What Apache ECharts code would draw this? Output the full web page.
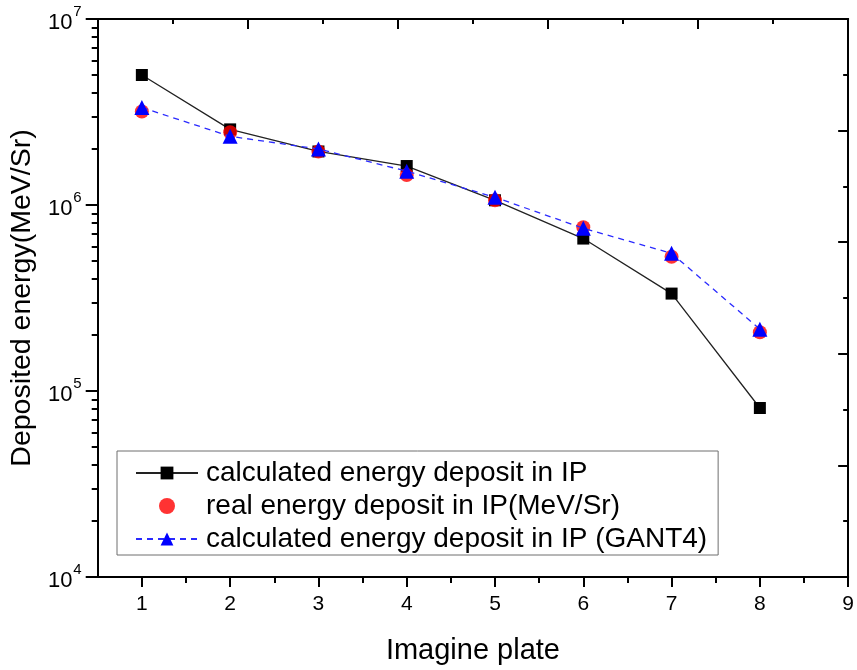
<!DOCTYPE html>
<html>
<head>
<meta charset="utf-8">
<script src="https://cdn.jsdelivr.net/npm/echarts@6/dist/echarts.min.js"></script>
<style>
  html, body { margin: 0; padding: 0; background: #ffffff; }
  #chart { width: 857px; height: 670px; }
</style>
</head>
<body>
<div id="chart"></div>
<script>
// Imaging plate index (stack position)
const plates = [1, 2, 3, 4, 5, 6, 7, 8];

// Deposited energy per plate, MeV/Sr
const calcDeposit  = [5.0e6, 2.55e6, 1.94e6, 1.62e6, 1.06e6, 6.6e5, 3.34e5, 8.1e4];
const realDeposit  = [3.18e6, 2.46e6, 1.94e6, 1.45e6, 1.06e6, 7.6e5, 5.27e5, 2.07e5];
const geantDeposit = [3.34e6, 2.34e6, 2.0e6, 1.52e6, 1.10e6, 7.5e5, 5.5e5, 2.15e5];

const seriesNames = [
  'calculated energy deposit in IP',
  'real energy deposit in IP(MeV/Sr)',
  'calculated energy deposit in IP (GANT4)'
];

// Tick positions
const xMajorTicks = [1, 2, 3, 4, 5, 6, 7, 8, 9];
const xMinorTicks = [1.5, 2.5, 3.5, 4.5, 5.5, 6.5, 7.5, 8.5];
const yDecades = [1e4, 1e5, 1e6, 1e7];
const yMinorTicks = [
  2e4, 3e4, 4e4, 5e4, 6e4, 7e4, 8e4, 9e4,
  2e5, 3e5, 4e5, 5e5, 6e5, 7e5, 8e5, 9e5,
  2e6, 3e6, 4e6, 5e6, 6e6, 7e6, 8e6, 9e6
];

const FONT = 'Liberation Sans, Arial, sans-serif';
const AXIS_LINE = { show: true, onZero: false, lineStyle: { color: '#000', width: 2 } };
const TICK_STYLE = { color: '#000', width: 2 };

const pairs = vals => plates.map((p, i) => [p, vals[i]]);

const chart = echarts.init(document.getElementById('chart'), null, { renderer: 'canvas' });

chart.setOption({
  animation: false,
  backgroundColor: '#ffffff',
  textStyle: { fontFamily: FONT },
  grid: { left: 97, right: 7, top: 19, bottom: 90, containLabel: false },
  xAxis: [
    {
      type: 'value', position: 'bottom', min: 0.5, max: 9,
      axisLine: AXIS_LINE,
      axisTick: { show: true, customValues: xMajorTicks, length: 10, lineStyle: TICK_STYLE },
      axisLabel: { customValues: xMajorTicks, fontSize: 21, color: '#000', margin: 17, fontFamily: FONT },
      splitLine: { show: false },
      name: 'Imagine plate', nameLocation: 'middle', nameGap: 59,
      nameTextStyle: { fontSize: 29, color: '#000', fontFamily: FONT }
    },
    {
      type: 'value', position: 'bottom', min: 0.5, max: 9,
      axisLine: { show: false },
      axisTick: { show: true, customValues: xMinorTicks, length: 6, lineStyle: TICK_STYLE },
      axisLabel: { show: false },
      splitLine: { show: false }
    },
    {
      type: 'value', position: 'top', min: 0, max: 10, interval: 2,
      axisLine: AXIS_LINE,
      axisTick: { show: true, inside: true, length: 10, lineStyle: TICK_STYLE },
      minorTick: { show: true, splitNumber: 2, length: 5, lineStyle: TICK_STYLE },
      axisLabel: { show: false },
      splitLine: { show: false }
    }
  ],
  yAxis: [
    {
      type: 'log', logBase: 10, position: 'left', min: 1e4, max: 1e7,
      axisLine: AXIS_LINE,
      axisTick: { show: true, customValues: yDecades, length: 12, lineStyle: TICK_STYLE },
      axisLabel: {
        customValues: yDecades, margin: 16, color: '#000', fontFamily: FONT,
        formatter: v => '{b|10}{s|' + Math.round(Math.log10(v)) + '}',
        rich: {
          b: { fontSize: 22, color: '#000', fontFamily: FONT, verticalAlign: 'bottom', lineHeight: 30 },
          s: { fontSize: 15, color: '#000', fontFamily: FONT, verticalAlign: 'top', lineHeight: 30, padding: [0, 0, 0, 1] }
        }
      },
      splitLine: { show: false },
      name: 'Deposited energy(MeV/Sr)', nameLocation: 'middle', nameGap: 52,
      nameTextStyle: { fontSize: 28.5, color: '#000', fontFamily: FONT }
    },
    {
      type: 'log', logBase: 10, position: 'left', min: 1e4, max: 1e7,
      axisLine: { show: false },
      axisTick: { show: true, customValues: yMinorTicks, length: 6, lineStyle: TICK_STYLE },
      axisLabel: { show: false },
      splitLine: { show: false }
    },
    {
      type: 'value', position: 'right', min: 0, max: 10, interval: 2,
      axisLine: AXIS_LINE,
      axisTick: { show: true, inside: true, length: 10, lineStyle: TICK_STYLE },
      minorTick: { show: true, splitNumber: 2, length: 5, lineStyle: TICK_STYLE },
      axisLabel: { show: false },
      splitLine: { show: false }
    }
  ],
  legend: {
    orient: 'vertical', left: 117, top: 451,
    data: seriesNames,
    selectedMode: false,
    itemWidth: 62, itemHeight: 16, itemGap: 5,
    borderColor: '#6e6e6e', borderWidth: 1,
    padding: [8, 11, 2, 18],
    textStyle: { fontSize: 28, color: '#000', fontFamily: FONT, padding: [0, 0, 0, 3] }
  },
  series: [
    {
      name: seriesNames[0], type: 'line', xAxisIndex: 0, yAxisIndex: 0,
      data: pairs(calcDeposit),
      symbol: 'rect', symbolSize: 12,
      itemStyle: { color: '#000' },
      lineStyle: { color: '#222', width: 1.3 },
      z: 2
    },
    {
      name: seriesNames[1], type: 'scatter', xAxisIndex: 0, yAxisIndex: 0,
      data: pairs(realDeposit),
      symbol: 'circle', symbolSize: 14,
      itemStyle: { color: '#ff0000' },
      z: 3
    },
    {
      name: seriesNames[2], type: 'line', xAxisIndex: 0, yAxisIndex: 0,
      data: pairs(geantDeposit),
      symbol: 'triangle', symbolSize: 15,
      itemStyle: { color: '#0000ff' },
      lineStyle: { color: '#2a2aff', width: 1.3, type: [6, 5] },
      z: 4
    }
  ]
});
</script>
</body>
</html>
